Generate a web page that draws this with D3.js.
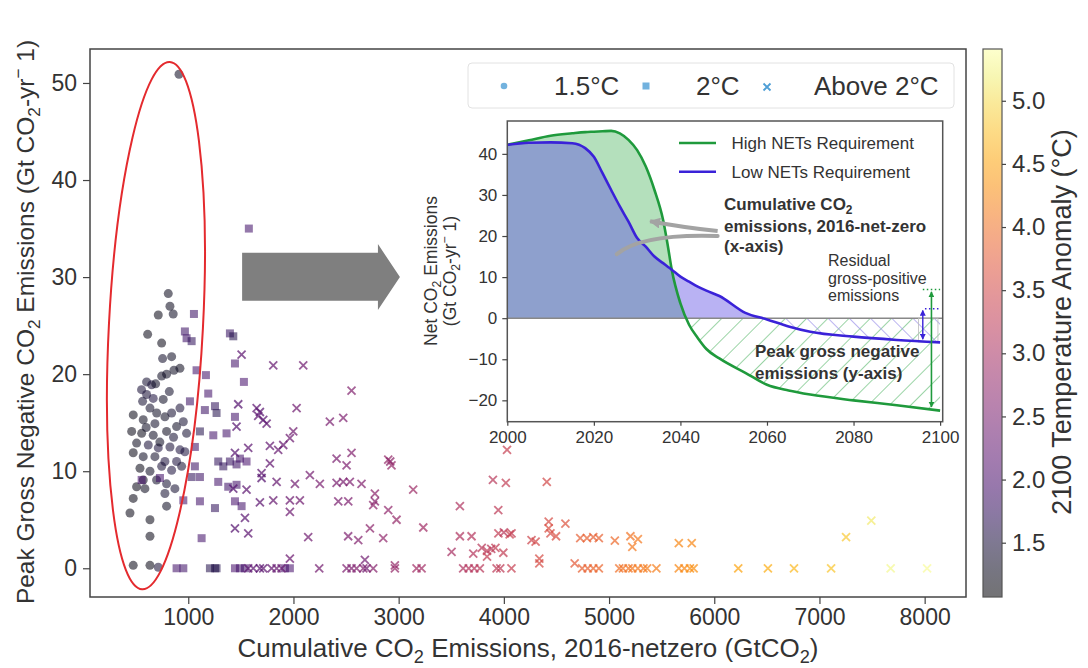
<!DOCTYPE html>
<html>
<head>
<meta charset="utf-8">
<title>Peak gross negative emissions vs cumulative emissions</title>
<script src="https://cdn.jsdelivr.net/npm/d3@7"></script>
<style>
body { margin: 0; background: #fff; }
svg text { font-family: "Liberation Sans", Arial, sans-serif; fill: #333; }
</style>
</head>
<body>
<svg id="chart" width="1088" height="668"></svg>
<script>

// ---- data: [cumulative CO2, peak negative, 2100 temperature]
var pts15 = [
  [912,50.9,1.3],[810,28.3,1.25],[826,27.0,1.25],[715,26.1,1.2],[857,26.2,1.3],[614,24.1,1.2],
  [747,23.2,1.2],[756,21.6,1.35],[842,21.8,1.3],[921,20.6,1.25],[864,20.4,1.3],[747,19.8,1.3],
  [794,20.0,1.3],[604,19.2,1.4],[652,18.9,1.45],[556,18.4,1.45],[604,17.9,1.45],[566,17.2,1.4],
  [667,17.5,1.5],[762,17.4,1.3],[636,16.5,1.35],[921,16.5,1.45],[842,16.0,1.4],[778,15.6,1.3],
  [477,15.8,1.2],[572,15.3,1.25],[683,14.9,1.35],[953,15.1,1.4],[889,14.6,1.3],[462,14.1,1.2],
  [557,13.9,1.2],[667,13.7,1.3],[794,14.1,1.25],[984,13.9,1.4],[509,12.9,1.25],[620,12.7,1.45],
  [715,12.4,1.5],[826,12.5,1.45],[921,12.2,1.5],[477,11.9,1.2],[572,11.5,1.3],[683,11.5,1.35],
  [778,11.0,1.5],[889,11.0,1.5],[968,12.0,1.5],[541,10.3,1.2],[636,10.0,1.3],[747,10.5,1.45],
  [842,10.1,1.5],[937,10.5,1.4],[572,9.1,1.25],[699,9.1,1.35],[794,8.7,1.4],[509,8.4,1.2],
  [588,8.2,1.25],[873,8.2,1.4],[477,7.2,1.2],[778,7.7,1.4],[794,6.4,1.3],[446,5.7,1.2],
  [636,5.0,1.2],[636,3.3,1.2],[477,0.3,1.2],[636,0.3,1.2],[715,0.1,1.45],
  [700,16.0,1.3],[730,13.0,1.3],[860,13.5,1.4],[600,14.5,1.3],[690,19.0,1.3],[820,18.2,1.35]
];

var pts20 = [
  [1576,35.0,1.9],[1054,26.2,1.8],[968,24.4,1.8],[984,23.7,1.85],[1032,23.4,1.7],[1396,24.2,1.75],
  [1428,23.9,1.6],[1444,21.1,1.9],[1079,20.4,1.9],[1168,19.9,1.9],[1529,19.2,1.95],[1190,18.0,1.9],
  [1016,17.2,1.8],[1254,16.7,1.7],[1269,16.0,1.6],[1158,16.3,1.8],[1444,15.6,1.9],[1111,14.1,1.6],
  [1238,13.7,1.9],[1364,13.9,1.9],[1063,12.5,1.85],[1285,11.0,1.7],[1333,10.5,1.7],[1396,11.0,1.75],
  [1459,10.7,1.8],[1491,11.3,1.9],[1554,11.0,1.95],[1063,10.5,1.8],[1111,9.4,1.8],[1032,9.4,1.7],
  [557,9.1,1.95],[731,9.3,1.9],[1285,8.9,1.9],[1380,8.4,1.85],[1459,8.6,1.9],[953,7.0,1.9],
  [1111,6.9,1.9],[1254,6.2,1.7],[1444,6.9,1.95],[1507,6.4,1.9],[1127,3.1,1.9],
  [889,0,1.9],[953,0,1.85],[1206,0,1.6],[1254,0,1.55],[1269,0,1.6],[1444,0,1.95],[1491,0,1.9],
  [1539,0,1.9],[1919,0,1.95],[1966,0,1.95]
];

var ptsAbove = [
  [1507,22.0,2.2],[1808,20.9,2.3],[2093,20.9,2.4],[2552,18.3,2.6],[1475,16.9,2.1],[1650,16.5,2.2],
  [1681,16.1,2.15],[1665,15.7,2.2],[1713,15.3,2.15],[1745,14.9,2.2],[2030,16.5,2.4],[2346,15.1,2.5],
  [2473,15.5,2.55],[1459,14.6,2.1],[1998,14.1,2.4],[1966,13.4,2.35],[1903,12.7,2.3],[1855,12.2,2.3],
  [1776,12.6,2.25],[1570,12.4,2.2],[1444,11.9,2.1],[2410,11.3,2.5],[2552,11.9,2.6],[2505,10.6,2.55],
  [2901,11.2,2.8],[2920,11.0,2.7],[2932,10.6,2.8],[1776,10.8,2.25],[1697,9.8,2.2],[1697,9.3,2.1],
  [1840,8.9,2.3],[2014,8.7,2.4],[2156,9.6,2.45],[2251,8.7,2.5],[2410,8.8,2.5],[2473,8.9,2.5],
  [2536,8.9,2.55],[2647,8.7,2.6],[3138,8.1,2.9],[1554,8.1,2.2],[1428,8.2,2.1],[1681,6.8,2.2],
  [1808,7.0,2.3],[1966,7.0,2.35],[2061,7.0,2.4],[1966,5.8,2.35],[2426,6.9,2.5],[2521,6.9,2.55],
  [2774,7.7,2.7],[2774,6.9,2.65],[2758,6.5,2.7],[2901,6.0,2.75],[2980,5.0,2.8],[1539,5.2,2.15],
  [1444,4.1,2.1],[1570,3.6,2.2],[2140,3.2,2.4],[2520,3.3,2.55],[2616,2.9,2.6],[2727,4.1,2.7],
  [2853,3.1,2.75],[1966,1.0,2.35],[2679,0.86,2.4],[2964,0.3,2.8],
  [3234,4.2,2.95],[3582,6.4,3.1],[3896,9.1,3.2],[4019,8.8,3.3],[3947,6.0,3.25],[4030,12.2,3.35],
  [4408,8.9,3.5],[3582,3.3,3.1],[3693,3.3,3.15],[3948,3.6,3.3],[4000,3.7,3.2],[4055,3.5,3.4],
  [4073,3.6,3.3],[3503,1.7,3.0],[3709,1.5,3.15],[3790,2.1,3.2],[3840,1.8,3.25],[3880,2.0,3.2],
  [3840,1.2,3.3],[3920,2.1,3.3],[3995,1.6,3.3],[4263,2.9,3.45],[4302,2.75,3.5],[4426,4.8,3.55],
  [4426,4.1,3.6],[4585,4.6,3.65],[4443,3.6,3.55],[4496,3.3,3.6],[4337,1.0,3.55],[4337,0.5,3.55],
  [4673,0.5,3.75],[4726,3.1,3.8],[4790,3.1,3.85],[4850,3.2,3.8],[4903,3.1,3.85],[5055,2.85,3.95],
  [5203,3.3,4.05],[5221,2.2,4.1],[5274,3.0,4.1],[5663,2.6,4.25],[5786,2.6,4.25],[7253,3.2,4.85],
  [7493,4.9,5.15],
  [1570,0,2.2],[1618,0,2.2],[1681,0,2.15],[1713,0,2.2],[1792,0,2.25],[1840,0,2.3],[1887,0,2.3],
  [2245,0,2.45],[2505,0,2.55],[2552,0,2.55],[2600,0,2.6],[2664,0,2.6],[2695,0,2.4],[2758,0,2.65],
  [2964,0,2.8],[3170,0,2.95],[3218,0,2.95],[3613,0,3.1],[3666,0,3.15],[3719,0,3.15],[3772,0,3.2],
  [3931,0,3.25],[3966,0,3.25],[4072,0,3.35],[4744,0,3.85],[4797,0,3.85],[4850,0,3.9],[4903,0,3.9],
  [5097,0,4.0],[5132,0,4.05],[5185,0,4.05],[5221,0,4.1],[5274,0,4.1],[5327,0,4.1],[5362,0,4.15],
  [5450,0,4.15],[5663,0,4.25],[5716,0,4.25],[5769,0,4.3],[5804,0,4.3],[6228,0,4.5],[6510,0,4.6],
  [6758,0,4.7],[7111,0,4.8],[7677,0,5.3],[8023,0,5.35]
];

var xTicks = [1000, 2000, 3000, 4000, 5000, 6000, 7000, 8000];
var yTicks = [0, 10, 20, 30, 40, 50];
var tempTicks = [1.5, 2.0, 2.5, 3.0, 3.5, 4.0, 4.5, 5.0];
var legendLabels = ["1.5°C", "2°C", "Above 2°C"];

// inset: schematic net emission pathways
var insetYears = [2000,2005,2010,2015,2018,2020,2022,2024,2026,2028,2030,2032,2034,2036,2037,2038,
                  2040,2042,2044,2046,2049,2055,2060,2065,2070,2080,2090,2100];
var highNETs = [42.2,43.3,44.4,45.0,45.3,45.4,45.5,45.6,45.0,43.4,40.9,36.9,31.2,23.9,18.2,11.8,
                3.6,-1.6,-4.8,-7.5,-9.8,-13.3,-16.2,-17.6,-18.6,-20.0,-21.2,-22.5];
var lowNETs = [42.2,42.7,42.8,42.6,41.4,39.3,35.3,31.2,27.2,23.5,19.5,17.4,15.0,13.4,12.6,11.8,
               10.1,8.9,7.7,6.7,5.4,1.3,-0.3,-2.0,-3.3,-4.5,-5.3,-5.9];
var insetXTicks = [2000, 2020, 2040, 2060, 2080, 2100];
var insetYTicks = [-20, -10, 0, 10, 20, 30, 40];
var insetLegend = ["High NETs Requirement", "Low NETs Requirement"];

// ---- scales
var svg = d3.select("#chart");
var x = d3.scaleLinear().domain([66, 8393]).range([90, 966]);
var y = d3.scaleLinear().domain([-2.96, 53.5]).range([597, 49]);
var tScale = d3.scaleLinear().domain([1.07, 5.41]).range([597, 49]);
var color = function(t) { return d3.interpolateInferno((t - 1.07) / (5.41 - 1.07)); };

var ix = d3.scaleLinear().domain([2000, 2100.6]).range([507.3, 942.7]);
var iy = d3.scaleLinear().domain([-25.2, 48]).range([421.7, 121]);

// text with sub/superscripts, parts = [[str, "sub"|"sup"|null], ...]
function rich(t, parts, size) {
  var shift = 0;
  parts.forEach(function(p) {
    var target = p[1] === "sub" ? 0.24 * size : p[1] === "sup" ? -0.4 * size : 0;
    var ts = t.append("tspan").text(p[0]).attr("dy", target - shift);
    if (p[1]) ts.attr("font-size", size * 0.7);
    shift = target;
  });
  return t;
}

function styleAxis(g, size) {
  g.attr("font-family", null).attr("font-size", null);
  g.select(".domain").remove();
  g.selectAll(".tick line").attr("stroke", "#444").attr("stroke-width", 1.2);
  g.selectAll(".tick text").attr("font-size", size).attr("fill", "#333");
}

var defs = svg.append("defs");

// ---- main axes
svg.append("g").attr("transform", "translate(0,597)")
  .call(d3.axisBottom(x).tickValues(xTicks).tickSize(7).tickPadding(5).tickFormat(d3.format("d")))
  .call(styleAxis, 23);
svg.append("g").attr("transform", "translate(90,0)")
  .call(d3.axisLeft(y).tickValues(yTicks).tickSize(7).tickPadding(6))
  .call(styleAxis, 23);

// ---- scatter
var gPts = svg.append("g");
gPts.selectAll("circle.p15").data(pts15).enter().append("circle")
  .attr("cx", function(d) { return x(d[0]); })
  .attr("cy", function(d) { return y(d[1]); })
  .attr("r", 4.5)
  .attr("fill", function(d) { return color(d[2]); })
  .attr("fill-opacity", 0.55);

gPts.selectAll("rect.p20").data(pts20).enter().append("rect")
  .attr("x", function(d) { return x(d[0]) - 4; })
  .attr("y", function(d) { return y(d[1]) - 4; })
  .attr("width", 8).attr("height", 8)
  .attr("fill", function(d) { return color(d[2]); })
  .attr("fill-opacity", 0.55);

gPts.selectAll("path.pab").data(ptsAbove).enter().append("path")
  .attr("transform", function(d) { return "translate(" + x(d[0]) + "," + y(d[1]) + ")"; })
  .attr("d", "M-4,-4L4,4M-4,4L4,-4")
  .attr("stroke", function(d) { return color(d[2]); })
  .attr("stroke-width", 1.8)
  .attr("stroke-opacity", 0.7)
  .attr("fill", "none");

// frame
svg.append("rect").attr("x", 90).attr("y", 49).attr("width", 876).attr("height", 548)
  .attr("fill", "none").attr("stroke", "#444").attr("stroke-width", 1.5);

// red ellipse round the 1.5°C cluster
var ecx = x(693), ecy = y(25);
svg.append("ellipse")
  .attr("cx", ecx).attr("cy", ecy)
  .attr("rx", x(693 + 447) - x(693)).attr("ry", y(0) - y(27.2))
  .attr("transform", "rotate(3," + ecx + "," + ecy + ")")
  .attr("fill", "none").attr("stroke", "#e42a2e").attr("stroke-width", 2);

// big grey arrow
var bigArrow = [[1512,32.5],[2803,32.5],[2803,33.4],[3012,30.0],[2803,26.6],[2803,27.55],[1512,27.55]];
svg.append("polygon")
  .attr("points", bigArrow.map(function(p) { return x(p[0]) + "," + y(p[1]); }).join(" "))
  .attr("fill", "#7f7f7f");

// ---- legend
svg.append("rect").attr("x", 468).attr("y", 63).attr("width", 486).attr("height", 45).attr("rx", 4)
  .attr("fill", "#fff").attr("fill-opacity", 0.85).attr("stroke", "#e2e2e2");
var lc = "#4f9fd6";
svg.append("circle").attr("cx", 504).attr("cy", 86).attr("r", 3.3).attr("fill", lc).attr("fill-opacity", 0.8);
svg.append("rect").attr("x", 642.5).attr("y", 82.5).attr("width", 7).attr("height", 7).attr("fill", lc).attr("fill-opacity", 0.8);
svg.append("path").attr("transform", "translate(767,87)").attr("d", "M-3.5,-3.5L3.5,3.5M-3.5,3.5L3.5,-3.5")
  .attr("stroke", lc).attr("stroke-width", 1.8);
var legX = [554, 696, 814];
legendLabels.forEach(function(s, i) {
  svg.append("text").attr("x", legX[i]).attr("y", 95).attr("font-size", 26).text(s);
});

// ---- inset
var inset = svg.append("g");
inset.append("rect").attr("x", 507.3).attr("y", 121).attr("width", 435.4).attr("height", 300.7).attr("fill", "#fff");

defs.append("clipPath").attr("id", "upper").append("rect")
  .attr("x", 507.3).attr("y", 121).attr("width", 435.4).attr("height", iy(0) - 121);
defs.append("clipPath").attr("id", "lower").append("rect")
  .attr("x", 507.3).attr("y", iy(0)).attr("width", 435.4).attr("height", 421.7 - iy(0));

function hatch(id, col, angle) {
  var p = defs.append("pattern").attr("id", id).attr("patternUnits", "userSpaceOnUse")
    .attr("width", 15).attr("height", 15).attr("patternTransform", "rotate(" + angle + ")");
  p.append("line").attr("x1", 0).attr("y1", -2).attr("x2", 0).attr("y2", 17)
    .attr("stroke", col).attr("stroke-width", 1.4);
}
hatch("hatchG", "#6fc280", 45);
hatch("hatchB", "#9d94ea", -45);

var rowsHigh = insetYears.map(function(yr, i) { return [yr, highNETs[i]]; });
var rowsLow = insetYears.map(function(yr, i) { return [yr, lowNETs[i]]; });
var area = d3.area().curve(d3.curveMonotoneX)
  .x(function(d) { return ix(d[0]); }).y0(iy(0)).y1(function(d) { return iy(d[1]); });
var line = d3.line().curve(d3.curveMonotoneX)
  .x(function(d) { return ix(d[0]); }).y(function(d) { return iy(d[1]); });

inset.append("path").attr("d", area(rowsHigh)).attr("clip-path", "url(#upper)")
  .attr("fill", "rgb(5,152,32)").attr("fill-opacity", 0.3);
inset.append("path").attr("d", area(rowsLow)).attr("clip-path", "url(#upper)")
  .attr("fill", "rgb(92,76,227)").attr("fill-opacity", 0.43);
inset.append("path").attr("d", area(rowsHigh)).attr("clip-path", "url(#lower)").attr("fill", "url(#hatchG)");
inset.append("path").attr("d", area(rowsLow)).attr("clip-path", "url(#lower)").attr("fill", "url(#hatchB)");

inset.append("line").attr("x1", 507.3).attr("x2", 942.7).attr("y1", iy(0)).attr("y2", iy(0))
  .attr("stroke", "#888").attr("stroke-width", 1.5);
inset.append("rect").attr("x", ix(2095)).attr("y", iy(0)).attr("width", ix(2099.5) - ix(2095))
  .attr("height", iy(-5.8) - iy(0)).attr("fill", "none").attr("stroke", "#bbb").attr("stroke-width", 0.8);

inset.append("path").attr("d", line(rowsHigh)).attr("fill", "none").attr("stroke", "#1f9a3c").attr("stroke-width", 2.6);
inset.append("path").attr("d", line(rowsLow)).attr("fill", "none").attr("stroke", "#3a22d8").attr("stroke-width", 2.6);

// arrow heads
function head(id, col, sz) {
  defs.append("marker").attr("id", id).attr("viewBox", "0 0 10 10").attr("refX", 9).attr("refY", 5)
    .attr("markerWidth", sz).attr("markerHeight", sz).attr("markerUnits", "userSpaceOnUse")
    .attr("orient", "auto-start-reverse")
    .append("path").attr("d", "M0,0L10,5L0,10Z").attr("fill", col);
}
head("ahG", "#1f9a3c", 6);
head("ahB", "#3a22d8", 6);
head("ahGrey", "#a3a3a3", 11);

// residual / peak negative arrows at the right edge
inset.append("line").attr("x1", ix(2098)).attr("x2", ix(2098)).attr("y1", iy(-21.6)).attr("y2", iy(6.4))
  .attr("stroke", "#1f9a3c").attr("stroke-width", 1.6)
  .attr("marker-start", "url(#ahG)").attr("marker-end", "url(#ahG)");
inset.append("line").attr("x1", ix(2096)).attr("x2", ix(2100)).attr("y1", iy(7.0)).attr("y2", iy(7.0))
  .attr("stroke", "#1f9a3c").attr("stroke-width", 1.5).attr("stroke-dasharray", "1.5,2.5");
inset.append("line").attr("x1", ix(2096)).attr("x2", ix(2096)).attr("y1", iy(-5.1)).attr("y2", iy(1.9))
  .attr("stroke", "#3a22d8").attr("stroke-width", 1.4)
  .attr("marker-start", "url(#ahB)").attr("marker-end", "url(#ahB)");
inset.append("line").attr("x1", ix(2096.5)).attr("x2", ix(2100)).attr("y1", iy(2.3)).attr("y2", iy(2.3))
  .attr("stroke", "#3a22d8").attr("stroke-width", 1.5).attr("stroke-dasharray", "1.5,2.5");

// grey pointer arrows from the annotation
inset.append("path")
  .attr("d", "M" + ix(2048.6) + "," + iy(21.2) + "Q" + ix(2040) + "," + iy(22.2) + " " + ix(2033) + "," + iy(23.6))
  .attr("fill", "none").attr("stroke", "#a3a3a3").attr("stroke-width", 4).attr("marker-end", "url(#ahGrey)");
inset.append("path")
  .attr("d", "M" + ix(2048.6) + "," + iy(20.0) + "Q" + ix(2031) + "," + iy(20.6) + " " + ix(2025.3) + "," + iy(15.6))
  .attr("fill", "none").attr("stroke", "#a3a3a3").attr("stroke-width", 4).attr("stroke-linecap", "round");

// inset frame and axes
inset.append("rect").attr("x", 507.3).attr("y", 121).attr("width", 435.4).attr("height", 300.7)
  .attr("fill", "none").attr("stroke", "#555").attr("stroke-width", 1.5);
inset.append("g").attr("transform", "translate(0,421.7)")
  .call(d3.axisBottom(ix).tickValues(insetXTicks).tickSize(4).tickPadding(5).tickFormat(d3.format("d")))
  .call(styleAxis, 17);
inset.append("g").attr("transform", "translate(507.3,0)")
  .call(d3.axisLeft(iy).tickValues(insetYTicks).tickSize(5).tickPadding(5)
    .tickFormat(function(d) { return d < 0 ? "\u2212" + (-d) : d; }))
  .call(styleAxis, 17);

// inset legend
var legCols = ["#1f9a3c", "#3a22d8"];
insetLegend.forEach(function(s, i) {
  var yy = 143 + i * 28.7;
  inset.append("line").attr("x1", 679).attr("x2", 716).attr("y1", yy).attr("y2", yy)
    .attr("stroke", legCols[i]).attr("stroke-width", 2.6);
  inset.append("text").attr("x", 731.5).attr("y", yy + 6).attr("font-size", 17).attr("fill", "#444").text(s);
});

// inset annotations
var a1 = inset.append("text").attr("x", 724).attr("y", 210).attr("font-size", 17).attr("font-weight", "bold");
rich(a1, [["Cumulative CO", null], ["2", "sub"]], 17);
inset.append("text").attr("x", 724).attr("y", 232).attr("font-size", 17).attr("font-weight", "bold")
  .text("emissions, 2016-net-zero");
inset.append("text").attr("x", 724).attr("y", 252).attr("font-size", 17).attr("font-weight", "bold").text("(x-axis)");
["Residual", "gross-positive", "emissions"].forEach(function(s, i) {
  inset.append("text").attr("x", 828).attr("y", 266 + i * 17.5).attr("font-size", 16).attr("fill", "#8a8a8a").text(s);
});
["Peak gross negative", "emissions (y-axis)"].forEach(function(s, i) {
  inset.append("text").attr("x", 755).attr("y", 357 + i * 21.5).attr("font-size", 17)
    .attr("font-weight", "bold").text(s);
});

// inset y label
var il1 = inset.append("text").attr("transform", "translate(437,271) rotate(-90)")
  .attr("text-anchor", "middle").attr("font-size", 17.5);
rich(il1, [["Net CO", null], ["2", "sub"], [" Emissions", null]], 17.5);
var il2 = inset.append("text").attr("transform", "translate(456,271) rotate(-90)")
  .attr("text-anchor", "middle").attr("font-size", 17.5);
rich(il2, [["(Gt CO", null], ["2", "sub"], ["-yr", null], ["\u2212", "sup"], [" 1)", null]], 17.5);

// ---- axis labels
var xl = svg.append("text").attr("x", 528).attr("y", 657).attr("text-anchor", "middle").attr("font-size", 26);
rich(xl, [["Cumulative CO", null], ["2", "sub"], [" Emissions, 2016-netzero (GtCO", null], ["2", "sub"], [")", null]], 26);
var yl = svg.append("text").attr("transform", "translate(34,322) rotate(-90)")
  .attr("text-anchor", "middle").attr("font-size", 24.5);
rich(yl, [["Peak Gross Negative CO", null], ["2", "sub"], [" Emissions (Gt CO", null], ["2", "sub"],
          ["-yr", null], ["\u2212", "sup"], [" 1)", null]], 24.5);

// ---- colour bar
var grad = defs.append("linearGradient").attr("id", "cbar").attr("x1", 0).attr("y1", 1).attr("x2", 0).attr("y2", 0);
d3.range(0, 1.0001, 0.05).forEach(function(f) {
  grad.append("stop").attr("offset", f).attr("stop-color", d3.interpolateInferno(f)).attr("stop-opacity", 0.55);
});
svg.append("rect").attr("x", 983).attr("y", 49).attr("width", 19).attr("height", 548)
  .attr("fill", "url(#cbar)").attr("stroke", "#555").attr("stroke-width", 1.2);
svg.append("g").attr("transform", "translate(1002,0)")
  .call(d3.axisRight(tScale).tickValues(tempTicks).tickSize(4).tickPadding(6).tickFormat(d3.format(".1f")))
  .call(styleAxis, 24);
svg.append("text").attr("transform", "translate(1071,322) rotate(-90)").attr("text-anchor", "middle")
  .attr("font-size", 27).text("2100 Temperature Anomaly (°C)");

</script>
</body>
</html>
